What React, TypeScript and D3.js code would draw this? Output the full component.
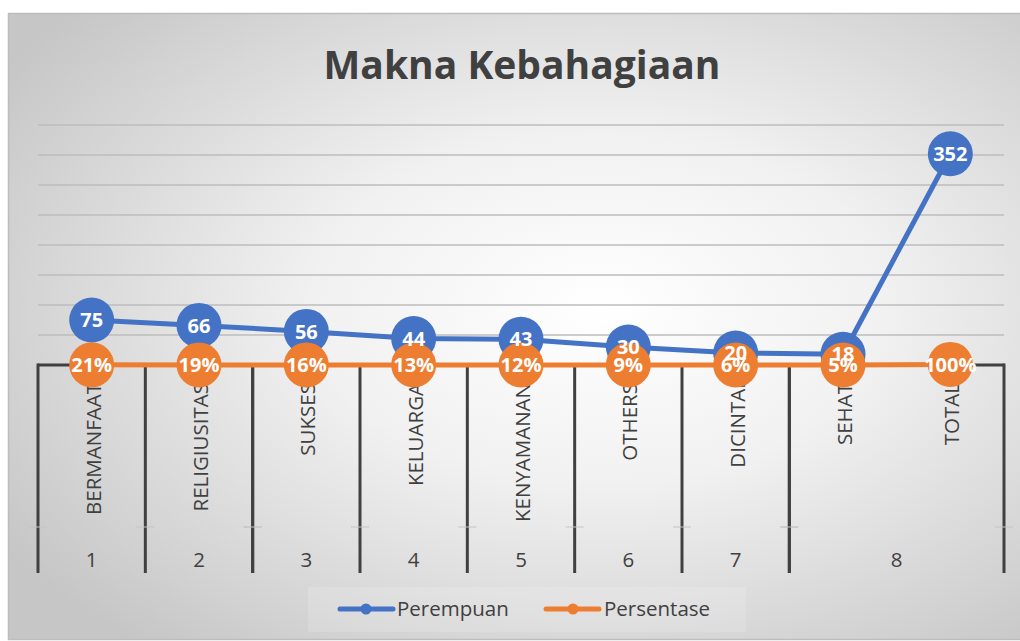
import * as d3 from "d3";

const categories = ["BERMANFAAT", "RELIGIUSITAS", "SUKSES", "KELUARGA", "KENYAMANAN", "OTHERS", "DICINTAI", "SEHAT", "TOTAL"];
const groupLabels = ["1", "2", "3", "4", "5", "6", "7", "8"];
const groupOfCategory = [0, 1, 2, 3, 4, 5, 6, 7, 7];
const perempuan = [75, 66, 56, 44, 43, 30, 20, 18, 352];
const persentase = [0.21, 0.19, 0.16, 0.13, 0.12, 0.09, 0.06, 0.05, 1.0];
const yTicks = [0, 50, 100, 150, 200, 250, 300, 350, 400];

const W = 1020;
const H = 641;
const FONT = "'Open Sans', 'DejaVu Sans', sans-serif";
const BLUE = "#4472C4";
const ORANGE = "#ED7D31";
const AXIS = "#404040";

export default function App() {
  const x = d3.scaleBand<string>().domain(categories).range([38, 1004]).padding(0);
  const y = d3.scaleLinear().domain([0, 400]).range([365, 125]);
  const cx = (i: number) => (x(categories[i]) ?? 0) + x.bandwidth() / 2;

  const line = d3.line<number>().x((_, i) => cx(i)).y((d) => y(d));

  // group spans on the second axis level
  const groups = groupLabels.map((g, gi) => {
    const idx = groupOfCategory.map((v, i) => (v === gi ? i : -1)).filter((i) => i >= 0);
    const x0 = x(categories[idx[0]]) ?? 0;
    const x1 = (x(categories[idx[idx.length - 1]]) ?? 0) + x.bandwidth();
    return { label: g, x0, x1 };
  });
  const dividers = Array.from(new Set(groups.flatMap((g) => [g.x0, g.x1])));

  const axisY = y(0);
  const axisBottom = 573;
  const levelSplit = 527;

  return (
    <div style={{ position: "absolute", left: 0, top: 0 }}>
      <svg width={W} height={H} style={{ display: "block" }}>
        <defs>
          <radialGradient id="bg" cx="0.58" cy="0.47" r="0.7" gradientUnits="objectBoundingBox">
            <stop offset="0" stopColor="#ffffff" />
            <stop offset="0.4" stopColor="#f1f1f1" />
            <stop offset="1" stopColor="#c6c6c6" />
          </radialGradient>
        </defs>
        <rect x={0} y={0} width={W} height={H} fill="#ffffff" />
        <rect x={8.5} y={13.5} width={W} height={626} fill="url(#bg)" stroke="#bdbdbd" strokeWidth={1.5} />

        <text x={522} y={79} textAnchor="middle" fontFamily={FONT} fontWeight="bold" fontSize={39} fill="#404040">
          Makna Kebahagiaan
        </text>

        {yTicks.filter((t) => t > 0).map((t) => (
          <line key={t} x1={38} x2={1004} y1={y(t)} y2={y(t)} stroke="#bcbcbc" strokeWidth={1.5} />
        ))}

        {/* category axis */}
        <line x1={38} x2={1004} y1={axisY} y2={axisY} stroke={AXIS} strokeWidth={3} />
        {dividers.map((dx) => (
          <g key={dx}>
            <line x1={dx} x2={dx} y1={axisY - 1.5} y2={axisBottom} stroke={AXIS} strokeWidth={3} />
            <line x1={dx - 9} x2={dx + 9} y1={levelSplit} y2={levelSplit} stroke="#c4c4c4" strokeWidth={1} />
          </g>
        ))}
        {categories.map((c, i) => (
          <text
            key={c}
            transform={`translate(${cx(i) + 1},${383}) rotate(-90)`}
            textAnchor="end"
            dominantBaseline="central"
            fontFamily={FONT}
            fontSize={20.5}
            fill="#404040"
          >
            {c}
          </text>
        ))}
        {groups.map((g) => (
          <text key={g.label} x={(g.x0 + g.x1) / 2} y={567} textAnchor="middle" fontFamily={FONT} fontSize={20.5} fill="#404040">
            {g.label}
          </text>
        ))}

        {/* series */}
        <path d={line(perempuan) ?? ""} fill="none" stroke={BLUE} strokeWidth={5} strokeLinejoin="round" />
        {perempuan.map((v, i) => (
          <circle key={"b" + i} cx={cx(i)} cy={y(v)} r={22.5} fill={BLUE} />
        ))}
        <path d={line(persentase) ?? ""} fill="none" stroke={ORANGE} strokeWidth={5} strokeLinejoin="round" />
        {persentase.map((v, i) => (
          <circle key={"o" + i} cx={cx(i)} cy={y(v)} r={22.5} fill={ORANGE} />
        ))}
        {perempuan.map((v, i) => (
          <text key={"bl" + i} x={cx(i)} y={y(v)} dy="0.36em" textAnchor="middle" fontFamily={FONT} fontWeight="bold" fontSize={20} fill="#ffffff">
            {v}
          </text>
        ))}
        {persentase.map((v, i) => (
          <text key={"ol" + i} x={cx(i)} y={y(v)} dy="0.36em" textAnchor="middle" fontFamily={FONT} fontWeight="bold" fontSize={20} fill="#ffffff">
            {d3.format(".0%")(v)}
          </text>
        ))}

        {/* legend */}
        <rect x={308} y={587} width={438} height={45} fill="#ffffff" opacity={0.15} />
        <line x1={340} x2={393} y1={609} y2={609} stroke={BLUE} strokeWidth={5} strokeLinecap="round" />
        <circle cx={366} cy={609} r={5.5} fill={BLUE} />
        <text x={397} y={609} dy="0.36em" fontFamily={FONT} fontSize={20.5} fill="#404040">Perempuan</text>
        <line x1={546} x2={599} y1={609} y2={609} stroke={ORANGE} strokeWidth={5} strokeLinecap="round" />
        <circle cx={573} cy={609} r={5.5} fill={ORANGE} />
        <text x={604} y={609} dy="0.36em" fontFamily={FONT} fontSize={20.5} fill="#404040">Persentase</text>
      </svg>
    </div>
  );
}
